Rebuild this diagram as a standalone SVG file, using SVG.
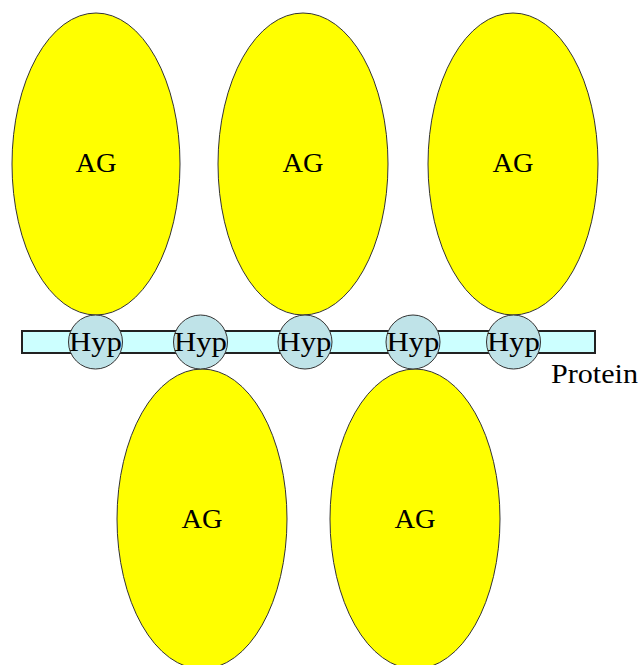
<svg xmlns="http://www.w3.org/2000/svg" width="640" height="665" viewBox="0 0 640 665">
<style>
.ag{fill:#ffff00;stroke:#333;stroke-width:1}
.hyp{fill:#bfe3e8;stroke:#333;stroke-width:1}
.bar{fill:#ccffff;stroke:#222;stroke-width:2}
text{font-family:"Liberation Serif","DejaVu Serif",serif;fill:#000;text-anchor:middle;font-size:27px}
</style>
<rect width="640" height="665" fill="#fff"/>
<g id="ag1"><ellipse class="ag" cx="96" cy="164" rx="84" ry="151"/><text x="96" y="172" textLength="41" lengthAdjust="spacingAndGlyphs">AG</text></g>
<g id="ag2"><ellipse class="ag" cx="303" cy="164" rx="85" ry="151"/><text x="303" y="172" textLength="41" lengthAdjust="spacingAndGlyphs">AG</text></g>
<g id="ag3"><ellipse class="ag" cx="513" cy="164" rx="85" ry="151"/><text x="513" y="172" textLength="41" lengthAdjust="spacingAndGlyphs">AG</text></g>
<g id="ag4"><ellipse class="ag" cx="202" cy="519" rx="85" ry="150"/><text x="202" y="528" textLength="41" lengthAdjust="spacingAndGlyphs">AG</text></g>
<g id="ag5"><ellipse class="ag" cx="415" cy="519" rx="85" ry="150"/><text x="415" y="528" textLength="41" lengthAdjust="spacingAndGlyphs">AG</text></g>
<g id="protein"><rect class="bar" x="22" y="331" width="573" height="22"/><text x="594.5" y="383" textLength="87" lengthAdjust="spacingAndGlyphs">Protein</text></g>
<g id="hyp1"><circle class="hyp" cx="95.5" cy="342" r="27"/><text x="95.5" y="351" textLength="53" lengthAdjust="spacingAndGlyphs">Hyp</text></g>
<g id="hyp2"><circle class="hyp" cx="200.5" cy="342" r="27"/><text x="200.5" y="351" textLength="53" lengthAdjust="spacingAndGlyphs">Hyp</text></g>
<g id="hyp3"><circle class="hyp" cx="305" cy="342" r="27"/><text x="305" y="351" textLength="53" lengthAdjust="spacingAndGlyphs">Hyp</text></g>
<g id="hyp4"><circle class="hyp" cx="413" cy="342" r="27"/><text x="413" y="351" textLength="53" lengthAdjust="spacingAndGlyphs">Hyp</text></g>
<g id="hyp5"><circle class="hyp" cx="513.5" cy="342" r="27"/><text x="513.5" y="351" textLength="53" lengthAdjust="spacingAndGlyphs">Hyp</text></g>
<g id="connectors"/>
</svg>
